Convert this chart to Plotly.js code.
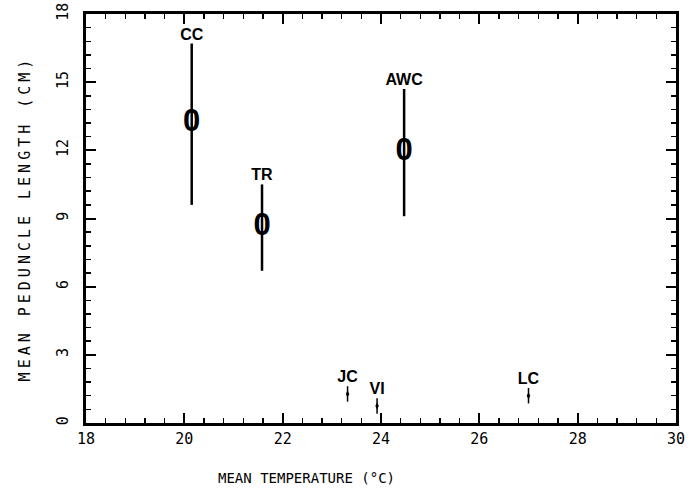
<!DOCTYPE html>
<html>
<head>
<meta charset="utf-8">
<script src="https://cdn.plot.ly/plotly-3.0.1.min.js"></script>
<style>
html,body{margin:0;padding:0;background:#fff;}
#chart{width:696px;height:494px;}
.ytitle{letter-spacing:4px;}
</style>
</head>
<body>
<div id="chart"></div>
<script>
// Sites with peduncle-length estimates (mean and range)
const siteNames = ["CC", "TR", "AWC"];
const siteTemp = [20.15, 21.58, 24.47];
const siteLength = [13.2, 8.6, 11.9];
const siteUpper = [3.5, 1.9, 2.8];
const siteLower = [3.6, 1.9, 2.8];

// Sites shown only with small arrows near the axis
const arrowNames = ["JC", "VI", "LC"];
const arrowTemp = [23.32, 23.92, 27.0];
const arrowLength = [1.28, 0.75, 1.2];

const xRange = [18, 30], yRange = [0, 18];
const xTickStep = 2, xMinorStep = 0.4;
const yTickStep = 3, yMinorStep = 0.6;
const xTitle = "MEAN TEMPERATURE (°C)";
const yTitle = "MEAN PEDUNCLE LENGTH (CM)";

const topOfBar = siteLength.map((v, i) => v + siteUpper[i]);

const mainTrace = {
  type: "scatter",
  mode: "text",
  x: siteTemp,
  y: siteLength,
  text: siteLength.map(() => "0"),
  textposition: "middle center",
  textfont: {family: "Liberation Sans", size: 31, color: "#000", weight: "bold"},
  error_y: {type: "data", symmetric: false, array: siteUpper, arrayminus: siteLower,
            color: "#000", thickness: 2.5, width: 0},
  hoverinfo: "x+y",
  showlegend: false
};

const labelTrace = {
  type: "scatter",
  mode: "text",
  x: siteTemp,
  y: topOfBar,
  text: siteNames,
  textposition: "top center",
  textfont: {family: "Liberation Sans", size: 16, color: "#000", weight: "bold"},
  hoverinfo: "skip",
  showlegend: false
};

const arrowStem = {
  type: "scatter",
  mode: "markers+text",
  x: arrowTemp,
  y: arrowLength,
  text: arrowNames,
  textposition: "top center",
  textfont: {family: "Liberation Sans", size: 16, color: "#000", weight: "bold"},
  marker: {symbol: "line-ns-open", size: 11, color: "#000", line: {color: "#000", width: 1.5}},
  showlegend: false
};

const arrowHead = {
  type: "scatter",
  mode: "markers",
  x: arrowTemp,
  y: arrowLength,
  marker: {symbol: "diamond-tall", size: 5, color: "#000"},
  hoverinfo: "skip",
  showlegend: false
};

const axisFont = {family: "DejaVu Sans Mono", size: 15, color: "#000"};

const layout = {
  width: 696,
  height: 494,
  margin: {l: 86, r: 20, t: 14, b: 71},
  showlegend: false,
  xaxis: {
    range: xRange,
    dtick: xTickStep,
    ticks: "inside",
    ticklen: 10,
    tickwidth: 2,
    tickcolor: "#000",
    minor: {dtick: xMinorStep, ticks: "inside", ticklen: 5, tickwidth: 1.5, tickcolor: "#000"},
    showline: true,
    linecolor: "#000",
    linewidth: 3,
    mirror: "allticks",
    gridcolor: "rgba(0,0,0,0)",
    tickfont: axisFont
  },
  yaxis: {
    range: yRange,
    dtick: yTickStep,
    tickangle: -90,
    ticks: "inside",
    ticklen: 10,
    tickwidth: 2,
    tickcolor: "#000",
    minor: {dtick: yMinorStep, ticks: "inside", ticklen: 5, tickwidth: 1.5, tickcolor: "#000"},
    showline: true,
    linecolor: "#000",
    linewidth: 3,
    mirror: "allticks",
    showgrid: false,
    zeroline: false,
    tickfont: axisFont,
    ticklabelstandoff: 9,
    title: {text: yTitle, font: {family: "DejaVu Sans Mono", size: 15, color: "#000"}, standoff: 20}
  },
  annotations: [{
    text: xTitle,
    xref: "paper", yref: "paper",
    x: 0.373, y: -0.134,
    xanchor: "center", yanchor: "middle",
    showarrow: false,
    font: {family: "DejaVu Sans Mono", size: 14, color: "#000"}
  }]
};

Plotly.newPlot("chart", [mainTrace, labelTrace, arrowStem, arrowHead], layout, {displayModeBar: false, staticPlot: true});
</script>
</body>
</html>
